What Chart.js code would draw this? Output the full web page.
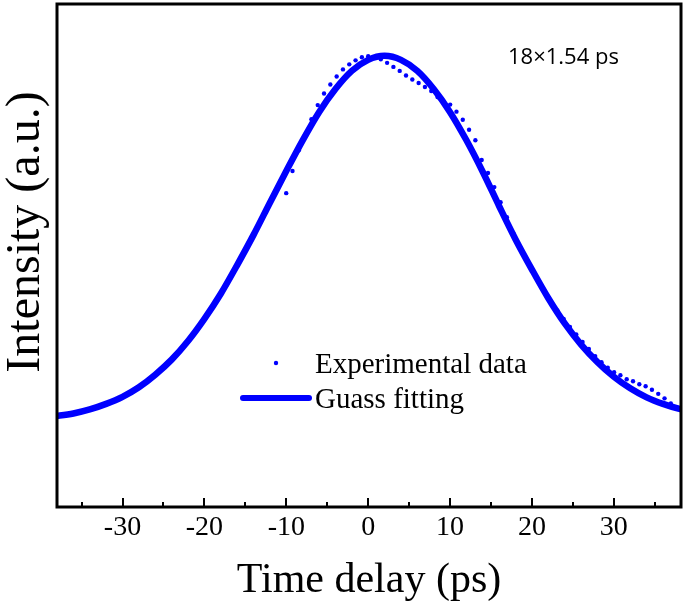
<!DOCTYPE html>
<html>
<head>
<meta charset="utf-8">
<script src="https://cdn.jsdelivr.net/npm/chart.js@4.4.0/dist/chart.umd.min.js"></script>
<style>
html, body { margin: 0; padding: 0; background: #fff; }
#wrap { position: relative; width: 685px; height: 609px; }
</style>
</head>
<body>
<div id="wrap"><canvas id="chart"></canvas></div>
<script>
// experimental points, time delay (ps)
const expX = [
    -38.50, -37.73, -36.96, -36.19, -35.42, -34.65, -33.88, -33.11, -32.34, -31.57,
    -30.80, -30.03, -29.26, -28.49, -27.72, -26.95, -26.18, -25.41, -24.64, -23.87,
    -23.10, -22.33, -21.56, -20.79, -20.02, -19.25, -18.48, -17.71, -16.94, -16.17,
    -15.40, -14.63, -13.86, -13.09, -12.32, -11.55, -10.78, -10.01, -9.24, -8.47,
    -7.70, -6.93, -6.16, -5.39, -4.62, -3.85, -3.08, -2.31, -1.54, -0.77,
    0,
    0.77, 1.54, 2.31, 3.08, 3.85, 4.62, 5.39, 6.16, 6.93, 7.70,
    8.47, 9.24, 10.01, 10.78, 11.55, 12.32, 13.09, 13.86, 14.63, 15.40,
    16.17, 16.94, 17.71, 18.48, 19.25, 20.02, 20.79, 21.56, 22.33, 23.10,
    23.87, 24.64, 25.41, 26.18, 26.95, 27.72, 28.49, 29.26, 30.03, 30.80,
    31.57, 32.34, 33.11, 33.88, 34.65, 35.42, 36.19, 36.96, 37.73, 38.50
];
const expY = [
    0.180, 0.182, 0.184, 0.186, 0.188, 0.191, 0.195, 0.199, 0.203, 0.208,
    0.213, 0.219, 0.226, 0.233, 0.242, 0.251, 0.260, 0.271, 0.283, 0.295,
    0.309, 0.324, 0.339, 0.356, 0.374, 0.392, 0.412, 0.432, 0.454, 0.476,
    0.498, 0.522, 0.546, 0.570, 0.594, 0.619, 0.644, 0.624, 0.668, 0.709,
    0.740, 0.771, 0.799, 0.822, 0.840, 0.856, 0.870, 0.880, 0.888, 0.894,
    0.896,
    0.894, 0.890, 0.883, 0.875, 0.867, 0.858, 0.850, 0.843, 0.835, 0.827,
    0.815, 0.805, 0.800, 0.786, 0.770, 0.750, 0.729, 0.690, 0.664, 0.636,
    0.606, 0.576, 0.545, 0.517, 0.494, 0.470, 0.449, 0.426, 0.407, 0.391,
    0.374, 0.358, 0.343, 0.328, 0.314, 0.300, 0.288, 0.277, 0.268, 0.262,
    0.254, 0.250, 0.244, 0.240, 0.233, 0.225, 0.216, 0.206, 0.198, 0.192
];

// gauss fit curve
const fitX = [
    -40, -38, -36, -34, -32, -30, -28, -26, -24, -22, -20, -18, -16, -14, -12, -10, -8, -6, -4, -2,
    0, 2, 4, 6, 8, 10, 12, 14, 16, 18, 20, 22, 24, 26, 28, 30, 32, 34, 36, 38, 40
];
const fitY = [
    0.177, 0.181, 0.186, 0.194, 0.205, 0.219, 0.238, 0.263, 0.293, 0.330, 0.374, 0.424, 0.481, 0.541, 0.605, 0.668, 0.729, 0.785, 0.831, 0.867,
    0.889, 0.897, 0.889, 0.867, 0.831, 0.785, 0.729, 0.666, 0.598, 0.532, 0.472, 0.415, 0.365, 0.323, 0.288, 0.259, 0.236, 0.218, 0.205, 0.195, 0.188
];

const xTicks = [-30, -20, -10, 0, 10, 20, 30];
const xMinorTicks = [-35, -25, -15, -5, 5, 15, 25, 35];
const legendLabels = ['Experimental data', 'Guass fitting'];
const noteText = '18\u00d71.54 ps';
const yTitle = 'Intensity (a.u.)';

const blue = '#0000ff';
const serif = "'Liberation Serif', 'Times New Roman', serif";

// frame, inward ticks, y title, legend and note
const framePlugin = {
    id: 'frame',
    afterDraw(chart) {
        const ctx = chart.ctx;
        const a = chart.chartArea;
        const x = chart.scales.x;
        ctx.save();
        ctx.strokeStyle = '#000';
        ctx.lineWidth = 2;
        xTicks.forEach(v => {
            const px = Math.round(x.getPixelForValue(v));
            ctx.beginPath();
            ctx.moveTo(px, a.bottom);
            ctx.lineTo(px, a.bottom - 9);
            ctx.stroke();
        });
        xMinorTicks.forEach(v => {
            const px = Math.round(x.getPixelForValue(v));
            ctx.beginPath();
            ctx.moveTo(px, a.bottom);
            ctx.lineTo(px, a.bottom - 5);
            ctx.stroke();
        });
        ctx.lineWidth = 3;
        ctx.strokeRect(a.left, a.top, a.right - a.left, a.bottom - a.top);

        // y title, sits a bit above centre like the original
        ctx.save();
        ctx.translate(26, 232);
        ctx.rotate(-Math.PI / 2);
        ctx.fillStyle = '#000';
        ctx.font = '48px ' + serif;
        ctx.textAlign = 'center';
        ctx.textBaseline = 'middle';
        ctx.fillText(yTitle, 0, 0);
        ctx.restore();

        // legend
        ctx.fillStyle = blue;
        ctx.beginPath();
        ctx.arc(276, 363, 2.2, 0, Math.PI * 2);
        ctx.fill();
        ctx.strokeStyle = blue;
        ctx.lineWidth = 6;
        ctx.lineCap = 'round';
        ctx.beginPath();
        ctx.moveTo(243, 398);
        ctx.lineTo(309, 398);
        ctx.stroke();
        ctx.fillStyle = '#000';
        ctx.font = '29px ' + serif;
        ctx.textBaseline = 'alphabetic';
        ctx.textAlign = 'left';
        ctx.fillText(legendLabels[0], 315, 373);
        ctx.fillText(legendLabels[1], 315, 408);

        // note
        ctx.font = "22px 'Open Sans', 'Noto Sans', sans-serif";
        ctx.fillText(noteText, 508, 64);
        ctx.restore();
    }
};

const ctx = document.getElementById('chart').getContext('2d');
new Chart(ctx, {
    type: 'scatter',
    data: {
        datasets: [
            {
                type: 'line',
                label: legendLabels[1],
                data: fitX.map((v, i) => ({ x: v, y: fitY[i] })),
                borderColor: blue,
                borderWidth: 6.5,
                pointRadius: 0,
                fill: false,
                cubicInterpolationMode: 'monotone',
                clip: 0,
                order: 0
            },
            {
                label: legendLabels[0],
                data: expX.map((v, i) => ({ x: v, y: expY[i] })),
                backgroundColor: blue,
                borderWidth: 0,
                pointRadius: 2.2,
                clip: 0,
                order: 1
            }
        ]
    },
    options: {
        responsive: true,
        maintainAspectRatio: false,
        animation: false,
        layout: { padding: { top: 4, right: 2, bottom: 3, left: 57 } },
        plugins: {
            legend: { display: false },
            tooltip: { enabled: false }
        },
        scales: {
            x: {
                type: 'linear',
                min: -38,
                max: 38.2,
                afterBuildTicks: scale => {
                    scale.ticks = xTicks.map(v => ({ value: v }));
                },
                grid: { display: false, drawTicks: false },
                border: { display: false },
                ticks: {
                    color: '#000',
                    padding: 4,
                    font: { family: serif, size: 28 }
                },
                title: {
                    display: true,
                    text: 'Time delay (ps)',
                    color: '#000',
                    font: { family: serif, size: 42 },
                    padding: { top: 7, bottom: 0 }
                }
            },
            y: {
                display: false,
                min: 0,
                max: 1
            }
        }
    },
    plugins: [framePlugin]
});
</script>
</body>
</html>
